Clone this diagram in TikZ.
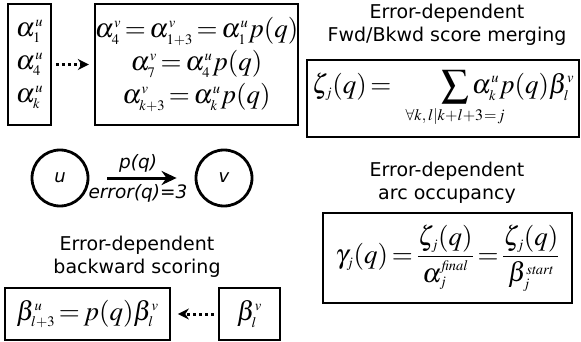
\documentclass[tikz,border=0pt]{standalone}
\usepackage{mathptmx}
\usepackage[no-math]{fontspec}
\setsansfont{DejaVu Sans}
\usetikzlibrary{arrows.meta, positioning}
\DeclareMathSizes{27}{27}{14.5}{11}
\thickmuskip=2.5mu plus 2mu
\medmuskip=2mu plus 1mu
% limits of the sum that take no width
\newcommand{\claplimit}[1]{\makebox[0pt]{\fontsize{16}{16}\selectfont\medmuskip=0mu\thickmuskip=1mu$#1$}}

\begin{document}
\begin{tikzpicture}[
    x=1pt, y=-1pt,
    eqbox/.style={rectangle, draw=black, line width=1.8pt, inner sep=0pt, align=center, font=\fontsize{27}{33}\selectfont},
    title/.style={align=center, font=\sffamily\fontsize{19}{22.5}\selectfont},
    state/.style={circle, draw=black, line width=2.8pt, minimum size=56pt, inner sep=0pt, font=\sffamily\itshape\fontsize{18}{20}\selectfont},
    arclabel/.style={font=\sffamily\itshape\fontsize{18.5}{20}\selectfont, xshift=-4pt},
    dotline/.style={draw, line width=3pt, dash pattern=on 3pt off 3pt, -{Stealth[length=11pt, width=11pt]}},
    arcline/.style={draw, line width=3pt, -{Stealth[length=15pt, width=14pt]}, shorten <=18pt, shorten >=18pt}
  ]
    \useasboundingbox (0,0) rectangle (581,342);

    % forward scoring
    \node (alphacol) [eqbox, minimum width=43pt, minimum height=121pt] at (29.5,64.5) {$\alpha^u_1$\\$\alpha^u_4$\\$\alpha^u_k$};
    \node (fwdbox) [eqbox, minimum width=202pt, minimum height=121pt, right=42pt of alphacol] {$\alpha^v_4=\alpha^v_{1+3}=\alpha^u_1 p(q)$\\$\alpha^v_7=\alpha^u_4 p(q)$\\$\alpha^v_{k+3}=\alpha^u_k p(q)$};

    % arc between states
    \node (u) [state] at (60,178) {u};
    \node (v) [state] at (224,178) {v};

    % backward scoring
    \node (bkwdtitle) [title] at (137,257) {Error-dependent\\backward scoring};
    \node (bkwdbox) [eqbox, minimum width=165pt, minimum height=52pt] at (87.5,314) {$\beta^u_{l+3}=p(q)\beta^v_l$};
    \node (betacol) [eqbox, minimum width=61pt, minimum height=52pt, right=47pt of bkwdbox] {$\beta^v_l$};

    % merging and occupancy
    \node (mergetitle) [title] at (447,25) {Error-dependent\\Fwd/Bkwd score merging};
    \node (mergebox) [eqbox, minimum width=272pt, minimum height=77pt] at (443,98.5) {$\zeta_j(q)=\hspace{46pt}\displaystyle\sum_{\claplimit{\forall k,l|k+l+3=j}}\alpha^u_k p(q)\beta^v_l$};
    \node (occtitle) [title] at (447,183) {Error-dependent\\arc occupancy};
    \node (occbox) [eqbox, minimum width=249pt, minimum height=90pt] at (447.5,258) {$\displaystyle\gamma_j(q)=\frac{\zeta_j(q)}{\alpha_j^{\mathit{final}}}=\frac{\zeta_j(q)}{\beta_j^{\mathit{start}}}$};

    \draw[dotline, shorten <=4pt, shorten >=5pt] (alphacol) -- (fwdbox);
    \draw[arcline] (u) -- node[above, inner sep=4pt, arclabel] {p(q)} node[below, inner sep=5pt, arclabel] {error(q)=3} (v);
    \draw[dotline, shorten <=4pt, shorten >=7pt] (betacol) -- (bkwdbox);
  \end{tikzpicture}
\end{document}
